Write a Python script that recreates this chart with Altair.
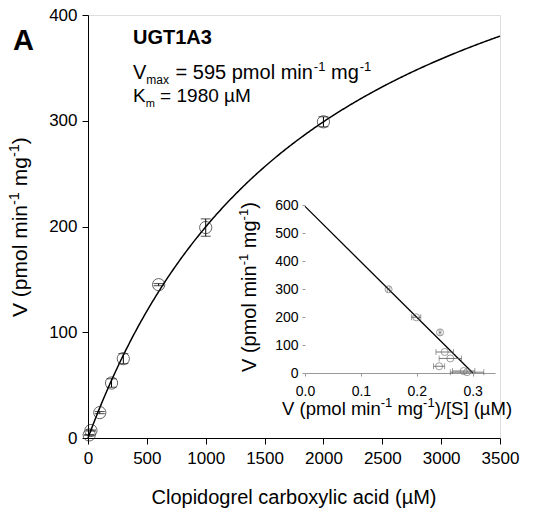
import altair as alt
import pandas as pd

# ---------------- data ----------------
S_UM = [10, 25, 100, 200, 300, 600, 1000, 2000]          # substrate (µM)
V_RATE = [2.9, 7.1, 24, 52, 75, 145, 199, 299]            # V (pmol/min/mg)
V_ERR = [0.3, 0.5, 1.0, 4.0, 4.7, 1.0, 8.2, 4.7]          # error bars
VMAX = 595
KM = 1980
X_TICKS = [0, 500, 1000, 1500, 2000, 2500, 3000, 3500]
Y_TICKS = [0, 100, 200, 300, 400]
IN_X_TICKS = [0.0, 0.1, 0.2, 0.3]
IN_Y_TICKS = [0, 100, 200, 300, 400, 500, 600]
PANEL = "A"
ENZYME = "UGT1A3"
X_TITLE = "Clopidogrel carboxylic acid (µM)"

# ---------------- layout ----------------
FONT = "Liberation Sans"
W, H = 412, 423
IN_X_RANGE = [217, 407]
IN_Y_RANGE = [358, 190]

AW = {" ": .278, "(": .333, ")": .333, "-": .333, "=": .584, "/": .278, "[": .278,
      "]": .278, "V": .667, "K": .667, "S": .667, "M": .833, "µ": .576, "p": .556,
      "m": .833, "o": .556, "l": .222, "i": .222, "n": .556, "g": .556, "a": .556,
      "x": .5, "c": .5, "y": .5, "r": .333, "e": .556, "b": .556, "d": .556}


def tw(txt, fs):
    return sum(AW.get(c, .556) for c in txt) * fs


def rich(pieces, x0, y0, angle=0):
    """pieces: (text, fontSize, baseline shift up, extra gap after)"""
    layers = []
    adv = 0.0
    for txt, fs, shift, gap in pieces:
        lead = len(txt) - len(txt.lstrip())
        a = adv + tw(" " * lead, fs)
        if angle == 0:
            x, y = x0 + a, y0 - shift
        else:
            x, y = x0 - shift, y0 - a
        layers.append(
            alt.Chart(pd.DataFrame({"t": [txt.strip()]}))
            .mark_text(align="left", baseline="alphabetic", font=FONT, fontSize=fs,
                       angle=angle, color="black")
            .encode(x=alt.value(x), y=alt.value(y), text="t:N")
        )
        adv += tw(txt, fs) + gap
    return layers


def single(txt, x, y, fs, bold=False, align="left"):
    return (
        alt.Chart(pd.DataFrame({"t": [txt]}))
        .mark_text(align=align, baseline="alphabetic", font=FONT, fontSize=fs,
                   fontWeight="bold" if bold else "normal", color="black")
        .encode(x=alt.value(x), y=alt.value(y), text="t:N")
    )


df = pd.DataFrame({"S": S_UM, "V": V_RATE, "err": V_ERR})

xs = alt.Scale(domain=[0, 3500], nice=False, zero=False)
ys = alt.Scale(domain=[0, 400], nice=False, zero=False)
xax = alt.Axis(values=X_TICKS, format="d", title=None, orient="bottom", labelFontSize=17,
               labelFont=FONT, tickSize=6, labelPadding=6, domainColor="black",
               tickColor="black", labelColor="black", grid=False, labelFlush=False,
               labelOverlap=False)
yax = alt.Axis(values=Y_TICKS, format="d", title=None, orient="left", labelFontSize=17,
               labelFont=FONT, tickSize=6, labelPadding=5, domainColor="black",
               tickColor="black", labelColor="black", grid=False, labelFlush=False,
               labelOverlap=False)

base = alt.Chart(df).transform_calculate(lo="datum.V - datum.err", hi="datum.V + datum.err")

curve = (
    alt.Chart(alt.sequence(0, 3501, 10, as_="S"))
    .transform_calculate(V=f"{VMAX} * datum.S / ({KM} + datum.S)")
    .mark_line(color="black", strokeWidth=1.5)
    .encode(x=alt.X("S:Q", scale=xs, axis=xax), y=alt.Y("V:Q", scale=ys, axis=yax))
)
ebar = base.mark_rule(color="black", strokeWidth=1).encode(
    x=alt.X("S:Q", scale=xs, axis=xax), y=alt.Y("lo:Q", scale=ys, axis=yax), y2="hi:Q")
cap_lo = base.mark_tick(orient="horizontal", size=10, thickness=1, color="black").encode(
    x=alt.X("S:Q", scale=xs, axis=xax), y=alt.Y("lo:Q", scale=ys, axis=yax))
cap_hi = base.mark_tick(orient="horizontal", size=10, thickness=1, color="black").encode(
    x=alt.X("S:Q", scale=xs, axis=xax), y=alt.Y("hi:Q", scale=ys, axis=yax))
pts = alt.Chart(df).mark_point(shape="circle", filled=False, size=150, color="#222",
                               strokeWidth=1).encode(
    x=alt.X("S:Q", scale=xs, axis=xax), y=alt.Y("V:Q", scale=ys, axis=yax))

texts = []
texts.append(single(PANEL, -75, 35, 29, bold=True))
texts.append(single(ENZYME, 45, 29, 20, bold=True))
texts += rich([("V", 20, 0, 0), ("max", 12, -5, 1), (" = 595 pmol min", 20, 0, 1),
               ("-1", 13, 8, 0), (" mg", 20, 0, 1), ("-1", 13, 8, 0)], 45, 64)
texts += rich([("K", 19, 0, 0), ("m", 11, -5, 0), (" = 1980 µM", 19, 0, 0)], 45, 87)
texts.append(single(X_TITLE, 206, 489, 20, align="center"))
texts += rich([("V (pmol min", 21, 0, 0), ("-1", 14.5, 8, 0), (" mg", 21, 0, 0),
               ("-1", 14.5, 8, 0), (")", 21, 0, 0)], -61, 302, angle=270)

main = alt.layer(curve, ebar, cap_lo, cap_hi, pts, *texts)

# ---------------- inset (Eadie-Hofstee) ----------------
ixs = alt.Scale(domain=[0, 0.34], range=IN_X_RANGE, nice=False, zero=False)
iys = alt.Scale(domain=[0, 600], range=IN_Y_RANGE, nice=False, zero=False)
ixax = alt.Axis(values=IN_X_TICKS, format=".1f", title=None, orient="bottom", offset=-65,
                labelFontSize=14, labelFont=FONT, tickSize=3, labelPadding=8,
                domainColor="#999999", tickColor="#999999", labelColor="black", grid=False,
                labelFlush=False, labelOverlap=False)
iyax = alt.Axis(values=IN_Y_TICKS, format="d", title=None, orient="left", offset=-217,
                domain=False, labelFontSize=14, labelFont=FONT, tickSize=3, labelPadding=4,
                tickColor="#999999", labelColor="black", grid=False,
                labelFlush=False, labelOverlap=False)

ibase = alt.Chart(df).transform_calculate(
    r="datum.V / datum.S", rlo="(datum.V - datum.err) / datum.S",
    rhi="(datum.V + datum.err) / datum.S")

iline = (
    alt.Chart(pd.DataFrame({"k": [0, 1]}))
    .transform_calculate(r=f"datum.k * {VMAX} / {KM}")
    .transform_calculate(V=f"{VMAX} - {KM} * datum.r")
    .mark_line(color="black", strokeWidth=1.3)
    .encode(x=alt.X("r:Q", scale=ixs, axis=ixax), y=alt.Y("V:Q", scale=iys, axis=iyax))
)
iebar = ibase.mark_rule(color="#555555", strokeWidth=0.8).encode(
    x=alt.X("rlo:Q", scale=ixs, axis=ixax), x2="rhi:Q", y=alt.Y("V:Q", scale=iys, axis=iyax))
icap1 = ibase.mark_tick(orient="vertical", size=6, thickness=0.8, color="#555555").encode(
    x=alt.X("rlo:Q", scale=ixs, axis=ixax), y=alt.Y("V:Q", scale=iys, axis=iyax))
icap2 = ibase.mark_tick(orient="vertical", size=6, thickness=0.8, color="#555555").encode(
    x=alt.X("rhi:Q", scale=ixs, axis=ixax), y=alt.Y("V:Q", scale=iys, axis=iyax))
ipts = ibase.mark_point(shape="circle", filled=False, size=50, color="#666666",
                        strokeWidth=0.9).encode(
    x=alt.X("r:Q", scale=ixs, axis=ixax), y=alt.Y("V:Q", scale=iys, axis=iyax))

itexts = []
itexts += rich([("V (pmol min", 18.5, 0, 0), ("-1", 13, 8, 0), (" mg", 18.5, 0, 0),
                ("-1", 13, 8, 0), (")/[S] (µM)", 18.5, 0, 0)], 194, 400)
itexts += rich([("V (pmol min", 20, 0, 0), ("-1", 13, 8, 0), (" mg", 20, 0, 0),
                ("-1", 13, 8, 0), (")", 20, 0, 0)], 168, 357, angle=270)

inset = alt.layer(iline, iebar, icap1, icap2, ipts, *itexts)

chart = (
    alt.layer(main, inset)
    .resolve_scale(x="independent", y="independent")
    .properties(width=W, height=H, autosize="none",
                padding={"left": 80, "top": 7, "right": 22, "bottom": 75})
    .configure_view(stroke=None)
    .configure(background="white")
)

chart.save("out.html", embed_options={"renderer": "svg", "actions": False})
